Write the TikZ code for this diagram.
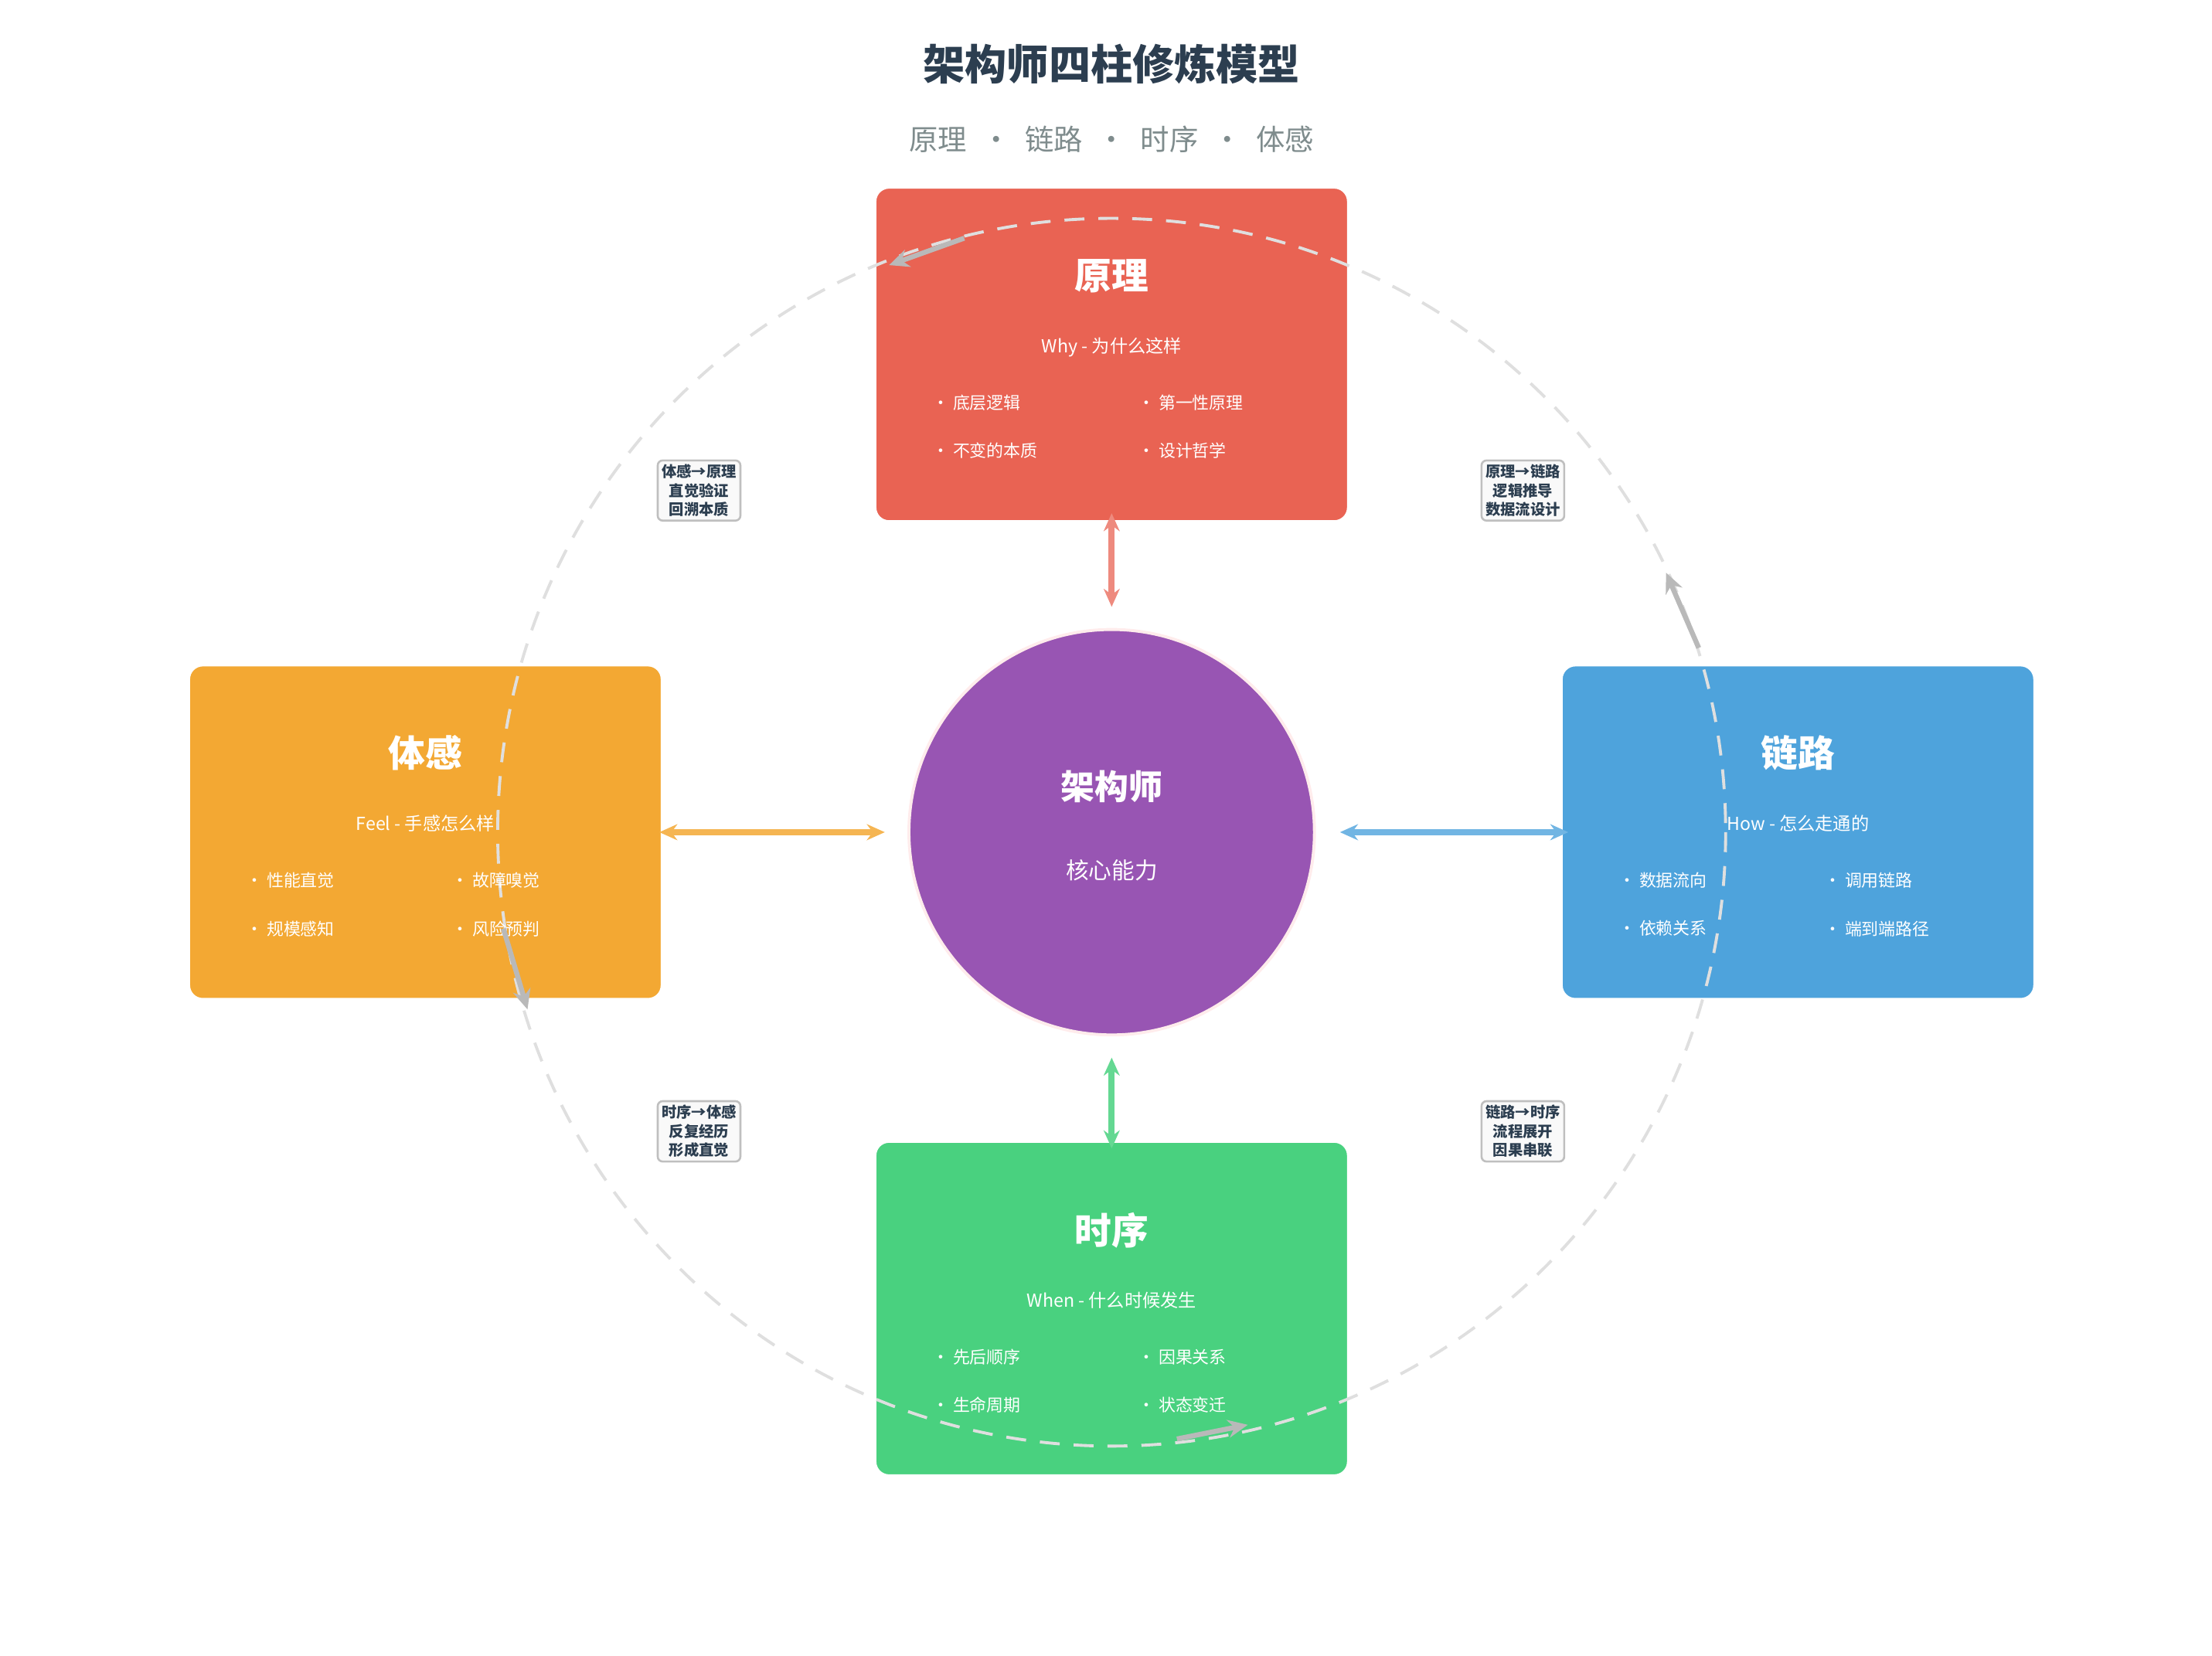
\documentclass[tikz,border=0pt]{standalone}
\usepackage{fontspec}
\setmainfont{Noto Sans CJK SC}
\usetikzlibrary{arrows.meta}
\definecolor{dark}{HTML}{2C3E50}
\definecolor{subc}{HTML}{7F8C8D}
\definecolor{cred}{HTML}{E96353}
\definecolor{corg}{HTML}{F3A833}
\definecolor{cblu}{HTML}{4EA3DC}
\definecolor{cgrn}{HTML}{49D17F}
\definecolor{cpur}{HTML}{9855B3}
\begin{document}
\begin{tikzpicture}[x=0.05cm,y=-0.05cm,
  pillar/.style={rounded corners=0.5cm,minimum width=16.7cm,minimum height=11.8cm,draw=white,line width=3pt,inner sep=0},
  ptitle/.style={text=white,font=\bfseries\fontsize{37}{40}\selectfont},
  pmid/.style={text=white,font=\fontsize{18}{20}\selectfont},
  bul/.style={text=white,anchor=west,font=\fontsize{17}{19}\selectfont},
  lab/.style={draw=gray!50,fill=gray!5,rounded corners=5pt,line width=2pt,text=dark,align=center,inner sep=4pt,font=\bfseries\fontsize{15}{19}\selectfont},
  conn/.style={line width=6pt,{Stealth[length=18pt,width=16pt]}-{Stealth[length=18pt,width=16pt]}},
  ring/.style={gray!25,line width=3pt,dash pattern=on 20pt off 14pt},
  rarr/.style={gray!55,line width=5pt,-{Stealth[length=20pt,width=18pt]}}]
\useasboundingbox (0,0) rectangle (1560,1167.6);
\node[text=dark,font=\bfseries\fontsize{42}{46}\selectfont] (title) at (784,45) {架构师四柱修炼模型};
\node[text=subc,font=\fontsize{29}{32}\selectfont] (subt) at (784,98) {原理\hspace{0.5em}·\hspace{0.5em}链路\hspace{0.5em}·\hspace{0.5em}时序\hspace{0.5em}·\hspace{0.5em}体感};
% pillars
\node[pillar,fill=cred] (top) at (784,250) {};
\node[pillar,fill=corg] (left) at (300,587) {};
\node[pillar,fill=cblu] (right) at (1268,587) {};
\node[pillar,fill=cgrn] (bot) at (784,923) {};
% ring
\draw[ring] (784,587) circle (433);
% centre
\node[circle,fill=cpur,draw=pink!30,line width=3pt,minimum size=14.3cm,inner sep=0] (core) at (784,587) {};
\node[text=white,font=\bfseries\fontsize{34}{36}\selectfont] (coret) at (784,555) {架构师};
\node[text=white,font=\fontsize{23}{25}\selectfont] (cores) at (784,614) {核心能力};
% pillar texts
\node[ptitle] (t1) at (784,195) {原理};
\node[pmid] (m1) at (784,245) {Why - 为什么这样};
\node[bul] (b11) at (655,284) {·\ 底层逻辑};
\node[bul] (b12) at (800,284) {·\ 第一性原理};
\node[bul] (b13) at (655,318) {·\ 不变的本质};
\node[bul] (b14) at (800,318) {·\ 设计哲学};
\node[ptitle] (t2) at (300,531) {体感};
\node[pmid] (m2) at (300,581) {Feel - 手感怎么样};
\node[bul] (b21) at (171,621) {·\ 性能直觉};
\node[bul] (b22) at (316,621) {·\ 故障嗅觉};
\node[bul] (b23) at (171,655) {·\ 规模感知};
\node[bul] (b24) at (316,655) {·\ 风险预判};
\node[ptitle] (t3) at (1268,531) {链路};
\node[pmid] (m3) at (1268,581) {How - 怎么走通的};
\node[bul] (b31) at (1139,621) {·\ 数据流向};
\node[bul] (b32) at (1284,621) {·\ 调用链路};
\node[bul] (b33) at (1139,655) {·\ 依赖关系};
\node[bul] (b34) at (1284,655) {·\ 端到端路径};
\node[ptitle] (t4) at (784,868) {时序};
\node[pmid] (m4) at (784,917) {When - 什么时候发生};
\node[bul] (b41) at (655,957) {·\ 先后顺序};
\node[bul] (b42) at (800,957) {·\ 因果关系};
\node[bul] (b43) at (655,991) {·\ 生命周期};
\node[bul] (b44) at (800,991) {·\ 状态变迁};
% connectors
\coordinate (ct) at (784,362); \coordinate (cc1) at (784,428);
\coordinate (cl) at (465,587); \coordinate (cc2) at (624,587);
\coordinate (cr) at (1106,587); \coordinate (cc3) at (945,587);
\coordinate (cb) at (784,810); \coordinate (cc4) at (784,746);
\draw[conn,color=cred!75] (ct) -- (cc1);
\draw[conn,color=corg!85] (cl) -- (cc2);
\draw[conn,color=cblu!80] (cr) -- (cc3);
\draw[conn,color=cgrn!85] (cb) -- (cc4);
% ring arrows
\coordinate (a1) at (680,168); \coordinate (a1e) at (627,187);
\coordinate (a2) at (1198,457); \coordinate (a2e) at (1175,404);
\coordinate (a3) at (355,655); \coordinate (a3e) at (372,712);
\coordinate (a4) at (830,1015); \coordinate (a4e) at (880,1005);
\draw[rarr] (a1) -- (a1e);
\draw[rarr] (a2) -- (a2e);
\draw[rarr] (a3) -- (a3e);
\draw[rarr] (a4) -- (a4e);
% labels
\node[lab] (l1) at (493,346) {体感→原理\\直觉验证\\回溯本质};
\node[lab] (l2) at (1074,346) {原理→链路\\逻辑推导\\数据流设计};
\node[lab] (l3) at (493,798) {时序→体感\\反复经历\\形成直觉};
\node[lab] (l4) at (1074,798) {链路→时序\\流程展开\\因果串联};
\end{tikzpicture}
\end{document}
